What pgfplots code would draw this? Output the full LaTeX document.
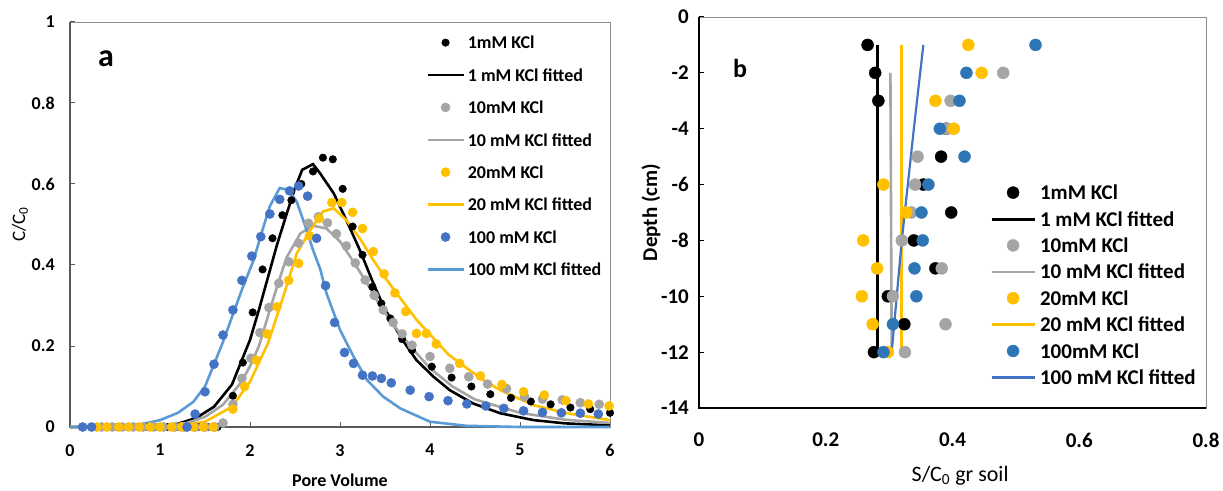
\documentclass[border=0pt]{standalone}
\usepackage{fontspec}
\setmainfont{Carlito}
\usepackage{pgfplots}
\pgfplotsset{compat=1.18}
\definecolor{kgray}{HTML}{A5A5A5}
\definecolor{kgold}{HTML}{FFC000}
\definecolor{kblue}{HTML}{4472C4}
\definecolor{klblue}{HTML}{5B9BD5}
\definecolor{kbblue}{HTML}{2E75B6}
\definecolor{axgray}{HTML}{595959}
\definecolor{boxgray}{HTML}{8C8C8C}
\begin{document}
\begin{tikzpicture}
\useasboundingbox (0pt,0pt) rectangle (1223pt,490pt);
% ---------------- panel a ----------------
\begin{axis}[
  at={(70pt,63pt)}, anchor=south west,
  scale only axis, width=540pt, height=405pt,
  xmin=0, xmax=6, ymin=0, ymax=1,
  xtick={0,1,2,3,4,5,6}, xticklabels={0,1,2,3,4,5,6},
  ytick={0,0.2,0.4,0.6,0.8,1}, yticklabels={0,0.2,0.4,0.6,0.8,1},
  tick pos=left, tick align=inside, major tick length=5pt,
  tick style={draw=axgray, line width=1pt},
  axis line style={draw=boxgray, line width=0.8pt},
  xticklabel style={font=\bfseries\fontsize{18}{18}\selectfont, anchor=north, inner sep=0pt, yshift=-17pt},
  yticklabel style={font=\bfseries\fontsize{18}{18}\selectfont, anchor=east, inner sep=0pt, xshift=-15pt},
  xlabel={Pore Volume}, ylabel={C/C\textsubscript{0}},
  xlabel style={font=\bfseries\fontsize{18}{18}\selectfont, at={(axis description cs:0.5,-0.131)}, anchor=center},
  ylabel style={font=\fontsize{19}{19}\selectfont, at={(axis description cs:-0.0926,0.5)}, anchor=center},
  clip=false,
  legend cell align=left,
  legend image code/.code={\draw[mark repeat=2,mark phase=2] plot coordinates {(0pt,0pt)(18pt,0pt)(36pt,0pt)};},
  legend style={draw=none, fill=none, at={(axis cs:3.956,0.965)}, anchor=north west, inner sep=0pt,
    font=\bfseries\fontsize{18}{18}\selectfont, row sep=19.9pt,
    nodes={inner sep=0pt, text height=12.5pt, text depth=0pt},
    /tikz/every odd column/.style={column sep=3pt}},
]
\draw[axgray, line width=1.5pt] (rel axis cs:0,1) -- (rel axis cs:0,0) -- (rel axis cs:1,0);
% 1 mM points
\addplot[only marks, mark=*, mark size=3.8pt, black] coordinates {
(0.30,0)(0.41,0)(0.52,0)(0.64,0)(0.75,0)(0.86,0)(0.97,0)(1.08,0)(1.20,0)(1.31,0)(1.42,0)(1.53,0)(1.64,0)
(1.81,0.077)(1.92,0.159)(2.03,0.283)(2.14,0.389)(2.25,0.466)(2.36,0.523)(2.46,0.560)(2.57,0.600)(2.70,0.631)
(2.81,0.665)(2.92,0.661)(3.03,0.588)(3.14,0.495)(3.25,0.425)(3.36,0.346)(3.46,0.305)(3.56,0.268)(3.69,0.217)
(3.80,0.190)(4.02,0.149)(4.24,0.122)(4.46,0.100)(4.67,0.081)(4.90,0.072)(5.12,0.063)(5.34,0.056)(5.56,0.048)
(5.78,0.044)(6.00,0.035)};
\addlegendentry{1mM KCl}
\addplot[black, line width=2.6pt, no marks] coordinates {
(0,0)(0.8,0)(1.0,0.003)(1.2,0.008)(1.4,0.022)(1.6,0.05)(1.8,0.105)(2.0,0.215)(2.1,0.29)(2.2,0.37)(2.3,0.45)
(2.41,0.528)(2.5,0.59)(2.58,0.635)(2.70,0.649)(2.78,0.626)(2.93,0.577)(3.07,0.511)(3.22,0.437)(3.37,0.355)
(3.48,0.30)(3.67,0.223)(3.85,0.165)(4.04,0.124)(4.22,0.091)(4.48,0.058)(4.78,0.034)(5.15,0.017)(5.5,0.009)(6.0,0.004)};
\addlegendentry{1 mM KCl fitted}
% 10 mM points
\addplot[only marks, mark=*, mark size=4.6pt, kgray] coordinates {
(0.35,0)(0.47,0)(0.58,0)(0.70,0)(0.81,0)(0.93,0)(1.04,0)(1.16,0)(1.27,0)(1.39,0)(1.50,0)(1.61,0)(1.70,0.01)
(1.81,0.056)(1.91,0.120)(2.01,0.170)(2.11,0.233)(2.21,0.295)(2.32,0.355)(2.43,0.408)(2.54,0.454)(2.65,0.503)
(2.76,0.519)(2.86,0.504)(2.96,0.477)(3.07,0.447)(3.17,0.405)(3.28,0.363)(3.38,0.325)(3.48,0.289)(3.59,0.258)
(3.69,0.230)(3.80,0.202)(4.00,0.174)(4.22,0.145)(4.43,0.124)(4.64,0.106)(4.85,0.095)(5.05,0.075)(5.25,0.069)
(5.47,0.067)(5.67,0.060)(5.88,0.056)};
\addlegendentry{10mM KCl}
\addplot[kgray, line width=2.6pt, no marks] coordinates {
(0,0)(1.0,0.002)(1.3,0.01)(1.5,0.025)(1.7,0.055)(1.9,0.11)(2.0,0.15)(2.1,0.2)(2.22,0.289)(2.32,0.36)(2.41,0.42)
(2.56,0.478)(2.70,0.497)(2.85,0.490)(3.0,0.458)(3.15,0.408)(3.30,0.355)(3.44,0.301)(3.6,0.25)(3.8,0.195)
(4.0,0.145)(4.25,0.10)(4.5,0.068)(5.0,0.035)(5.5,0.018)(6.0,0.01)};
\addlegendentry{10 mM KCl fitted}
% 20 mM points
\addplot[only marks, mark=*, mark size=4.6pt, kgold] coordinates {
(0.30,0)(0.41,0)(0.54,0)(0.65,0)(0.77,0)(0.89,0)(1.00,0)(1.13,0)(1.24,0)(1.37,0)(1.48,0)(1.59,0)
(1.81,0.044)(1.94,0.100)(2.07,0.165)(2.19,0.230)(2.30,0.297)(2.43,0.362)(2.54,0.404)(2.66,0.472)(2.77,0.515)
(2.91,0.554)(3.02,0.554)(3.14,0.530)(3.25,0.490)(3.37,0.433)(3.49,0.378)(3.61,0.331)(3.73,0.285)(3.85,0.231)
(3.96,0.231)(4.07,0.205)(4.33,0.157)(4.56,0.126)(4.80,0.105)(5.04,0.087)(5.27,0.079)(5.51,0.065)(5.76,0.057)(5.99,0.052)};
\addlegendentry{20mM KCl}
\addplot[kgold, line width=2.6pt, no marks] coordinates {
(0,0)(1.2,0.003)(1.5,0.013)(1.8,0.05)(2.0,0.112)(2.2,0.207)(2.37,0.322)(2.52,0.429)(2.67,0.486)(2.81,0.532)
(2.93,0.540)(3.07,0.511)(3.22,0.466)(3.37,0.412)(3.52,0.363)(3.67,0.318)(3.85,0.265)(4.04,0.219)(4.2,0.18)
(4.41,0.145)(4.6,0.115)(4.78,0.091)(5.15,0.054)(5.52,0.034)(6.0,0.017)};
\addlegendentry{20 mM KCl fitted}
% 100 mM points
\addplot[only marks, mark=*, mark size=4.6pt, kblue] coordinates {
(0.14,0)(0.24,0)(1.30,0)(1.39,0.032)(1.50,0.087)(1.60,0.155)(1.70,0.227)(1.81,0.289)(1.91,0.362)(2.02,0.422)
(2.12,0.470)(2.22,0.526)(2.33,0.562)(2.44,0.583)(2.54,0.595)(2.64,0.570)(2.74,0.466)(2.84,0.349)(2.94,0.258)
(3.05,0.184)(3.15,0.157)(3.25,0.128)(3.36,0.126)(3.46,0.120)(3.57,0.109)(3.78,0.091)(3.99,0.075)(4.20,0.065)
(4.41,0.057)(4.62,0.052)(4.82,0.046)(5.04,0.040)(5.25,0.036)(5.46,0.035)(5.67,0.034)(5.87,0.032)};
\addlegendentry{100 mM KCl}
\addplot[klblue, line width=2.6pt, no marks] coordinates {
(0,0)(0.6,0.002)(0.8,0.007)(1.0,0.017)(1.2,0.035)(1.37,0.062)(1.5,0.10)(1.6,0.155)(1.7,0.21)(1.81,0.278)
(1.92,0.345)(2.04,0.412)(2.13,0.48)(2.22,0.545)(2.33,0.59)(2.43,0.585)(2.52,0.556)(2.63,0.486)(2.70,0.437)
(2.78,0.39)(2.85,0.33)(3.0,0.24)(3.15,0.174)(3.30,0.116)(3.48,0.075)(3.67,0.046)(4.0,0.013)(4.4,0.003)(5.0,0)(6.0,0)};
\addlegendentry{100 mM KCl fitted}
\end{axis}
% ---------------- panel b ----------------
\begin{axis}[
  at={(699pt,82pt)}, anchor=south west,
  scale only axis, width=507pt, height=391pt,
  xmin=0, xmax=0.8, ymin=-14, ymax=0,
  xtick={0,0.2,0.4,0.6,0.8}, xticklabels={0,0.2,0.4,0.6,0.8},
  ytick={-14,-12,-10,-8,-6,-4,-2,0}, yticklabels={-14,-12,-10,-8,-6,-4,-2,0},
  tick pos=left, tick align=inside, major tick length=5pt,
  xtick style={draw=none}, ytick style={draw=black, line width=1pt},
  axis line style={draw=boxgray, line width=0.8pt},
  xticklabel style={font=\bfseries\fontsize{21}{21}\selectfont, anchor=north, inner sep=0pt, yshift=-25pt},
  yticklabel style={font=\bfseries\fontsize{21}{21}\selectfont, anchor=east, inner sep=0pt, xshift=-10pt},
  xlabel={S/C\textsubscript{0} gr soil}, ylabel={Depth (cm)},
  xlabel style={font=\fontsize{22}{22}\selectfont, at={(axis description cs:0.515,-0.174)}, anchor=center},
  ylabel style={font=\bfseries\fontsize{21}{21}\selectfont, at={(axis description cs:-0.0947,0.5)}, anchor=center},
  clip=false,
  legend cell align=left,
  legend image code/.code={\draw[mark repeat=2,mark phase=2] plot coordinates {(0pt,0pt)(21.5pt,0pt)(43pt,0pt)};},
  legend style={draw=none, fill=none, at={(axis cs:0.459,-6.03)}, anchor=north west, inner sep=0pt,
    font=\bfseries\fontsize{21}{21}\selectfont, row sep=12.4pt,
    nodes={inner sep=0pt, text height=14pt, text depth=0pt},
    /tikz/every odd column/.style={column sep=4pt}},
]
\draw[black, line width=2pt] (rel axis cs:0,1) -- (rel axis cs:0,0) -- (rel axis cs:1,0);
\addplot[only marks, mark=*, mark size=6pt, black] coordinates {
(0.266,-1)(0.278,-2)(0.283,-3)(0.390,-4)(0.382,-5)(0.354,-6)(0.398,-7)(0.339,-8)(0.373,-9)(0.298,-10)(0.324,-11)(0.276,-12)};
\addlegendentry{1mM KCl}
\addplot[black, line width=3pt, no marks] coordinates {(0.281,-1)(0.281,-6)(0.281,-12)};
\addlegendentry{1 mM KCl fitted}
\addplot[only marks, mark=*, mark size=6pt, kgray] coordinates {
(0.480,-2)(0.397,-3)(0.391,-4)(0.345,-5)(0.341,-6)(0.335,-7)(0.320,-8)(0.383,-9)(0.306,-10)(0.389,-11)(0.325,-12)};
\addlegendentry{10mM KCl}
\addplot[kgray, line width=2.6pt, no marks] coordinates {(0.302,-2)(0.303,-7)(0.304,-12)};
\addlegendentry{10 mM KCl fitted}
\addplot[only marks, mark=*, mark size=6pt, kgold] coordinates {
(0.425,-1)(0.446,-2)(0.373,-3)(0.402,-4)(0.291,-6)(0.327,-7)(0.259,-8)(0.281,-9)(0.257,-10)(0.274,-11)(0.298,-12)};
\addlegendentry{20mM KCl}
\addplot[kgold, line width=3pt, no marks] coordinates {(0.319,-1)(0.319,-6)(0.319,-12)};
\addlegendentry{20 mM KCl fitted}
\addplot[only marks, mark=*, mark size=6pt, kbblue] coordinates {
(0.531,-1)(0.422,-2)(0.411,-3)(0.380,-4)(0.419,-5)(0.362,-6)(0.351,-7)(0.353,-8)(0.340,-9)(0.343,-10)(0.306,-11)(0.291,-12)};
\addlegendentry{100mM KCl}
\addplot[kblue, line width=2.2pt, no marks] coordinates {(0.354,-1)(0.339,-4)(0.320,-8)(0.304,-12)};
\addlegendentry{100 mM KCl fitted}
\end{axis}
\node[font=\bfseries\fontsize{32}{32}\selectfont] at (106pt,431pt) {a};
\node[font=\bfseries\fontsize{26}{26}\selectfont] at (740pt,422pt) {b};
\end{tikzpicture}
\end{document}
